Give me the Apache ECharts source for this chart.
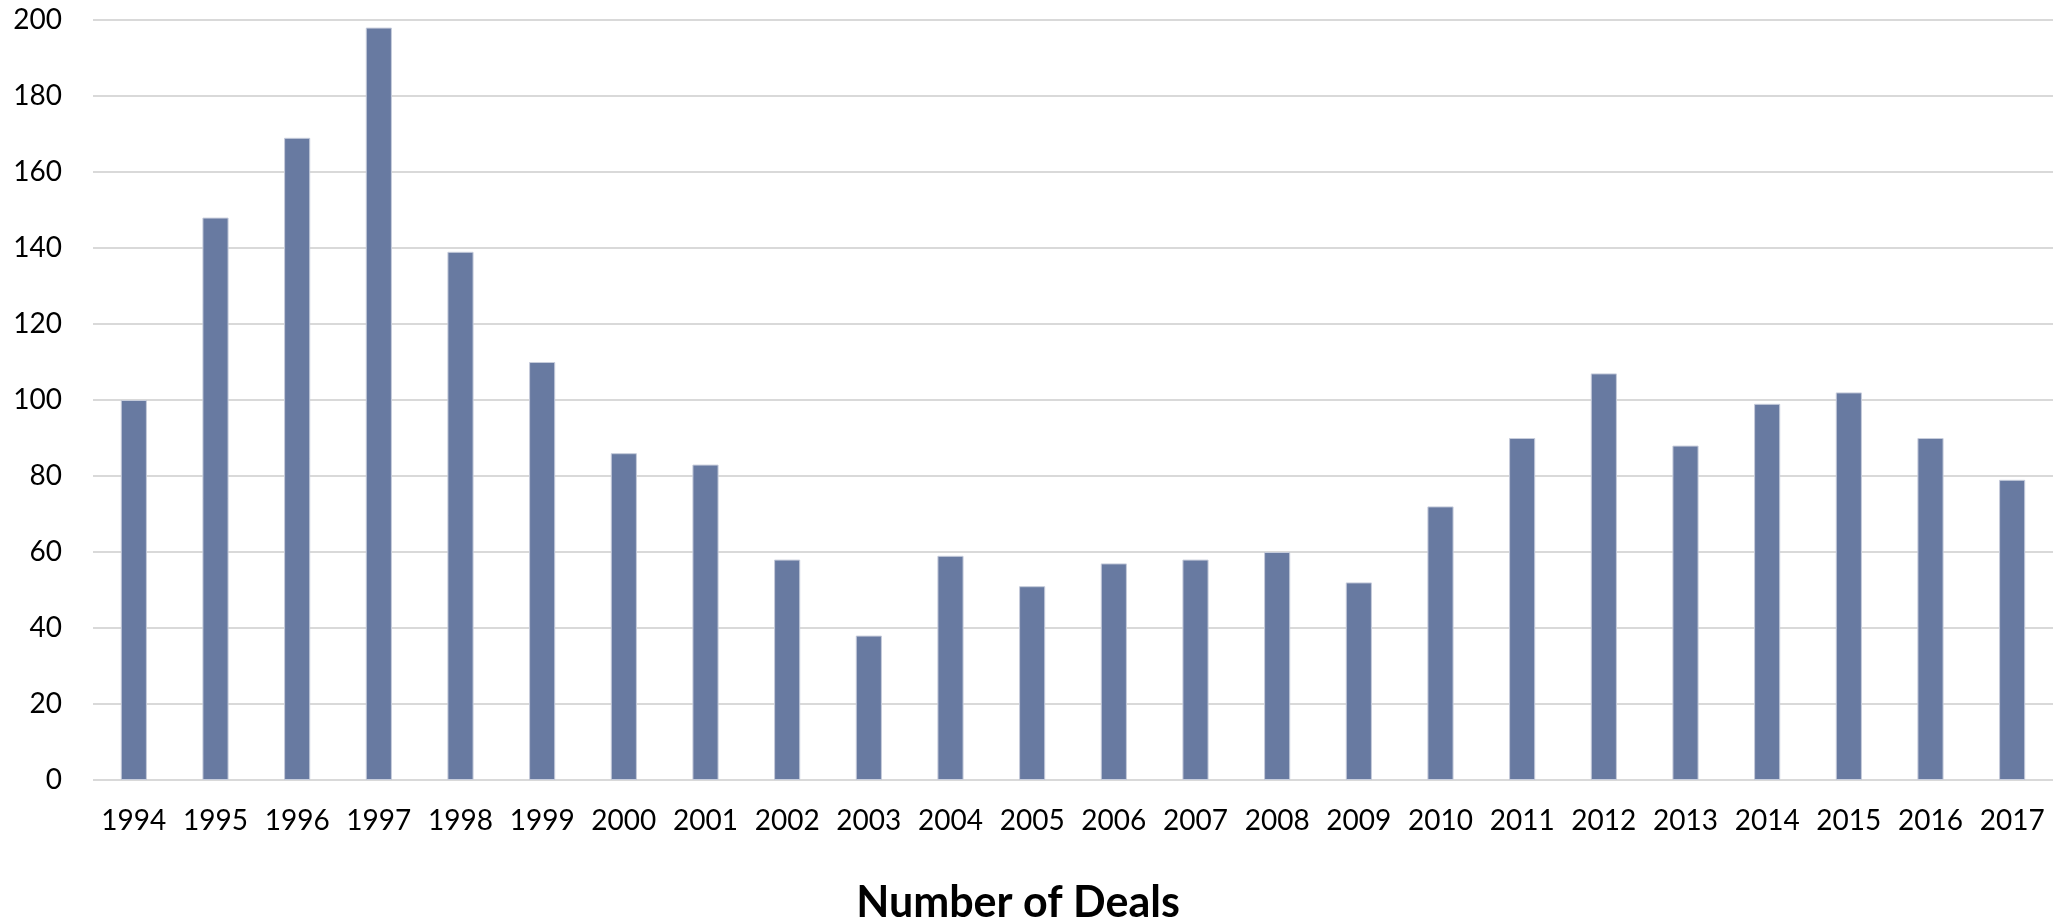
<!DOCTYPE html>
<html>
<head>
<meta charset="utf-8">
<script src="https://cdn.jsdelivr.net/npm/echarts@6/dist/echarts.min.js"></script>
<style>
  html, body { margin: 0; padding: 0; background: #fff; }
  #chart { width: 2056px; height: 924px; }
</style>
</head>
<body>
<div id="chart"></div>
<script>
  var years = ['1994', '1995', '1996', '1997', '1998', '1999', '2000', '2001', '2002', '2003', '2004', '2005',
    '2006', '2007', '2008', '2009', '2010', '2011', '2012', '2013', '2014', '2015', '2016', '2017'];
  var deals = [100, 148, 169, 198, 139, 110, 86, 83, 58, 38, 59, 51, 57, 58, 60, 52, 72, 90, 107, 88, 99, 102, 90, 79];
  var yTicks = { min: 0, max: 200, interval: 20 };

  var chart = echarts.init(document.getElementById('chart'));

  chart.setOption({
    animation: false,
    textStyle: { fontFamily: 'Lato, sans-serif' },
    title: {
      text: 'Number of Deals',
      left: 1013,
      textAlign: 'center',
      top: 877,
      textStyle: { fontSize: 43, fontWeight: 'bold', color: '#000' }
    },
    grid: { left: 93, right: 3, top: 20, bottom: 144, containLabel: false },
    xAxis: {
      type: 'category',
      data: years,
      axisLine: { show: false },
      axisTick: { show: false },
      axisLabel: { color: '#000', fontSize: 28, margin: 27, interval: 0, hideOverlap: false }
    },
    yAxis: {
      type: 'value',
      min: yTicks.min,
      max: yTicks.max,
      interval: yTicks.interval,
      axisLine: { show: false },
      axisTick: { show: false },
      axisLabel: { color: '#000', fontSize: 28, margin: 31 },
      splitLine: { lineStyle: { color: '#d9d9d9', width: 2 } }
    },
    series: [{
      type: 'bar',
      data: deals,
      barWidth: '32%',
      itemStyle: { color: '#687aa1', borderColor: '#c6ccdb', borderWidth: 1 }
    }]
  });
</script>
</body>
</html>
